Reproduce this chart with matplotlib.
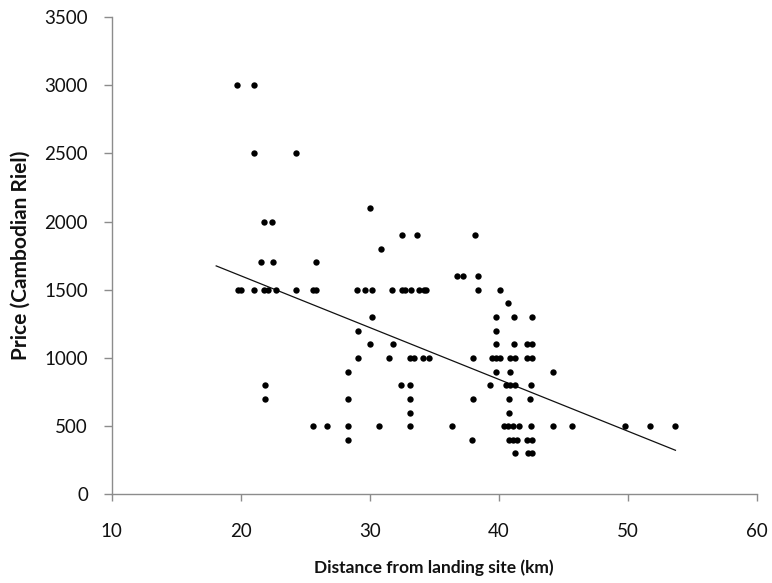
import numpy as np
import matplotlib
matplotlib.use("Agg")
import matplotlib.pyplot as plt

plt.rcParams["font.family"] = ["Lato", "DejaVu Sans"]

# distance (km) / price (riel)
dist_3000 = [19.7, 21.0]
dist_2500 = [21.0, 24.3]
dist_2100 = [30.0]
dist_2000 = [21.8, 22.4]
dist_1900 = [32.5, 33.7, 38.2]
dist_1800 = [30.9]
dist_1700 = [21.6, 22.5, 25.8]
dist_1600 = [36.8, 37.2, 38.4]
dist_1500 = [19.8, 20.0, 21.05, 21.8, 22.1, 22.7, 24.3, 25.6, 25.8, 29.0, 29.6,
             30.2, 31.7, 32.5, 32.7, 33.2, 33.85, 34.2, 34.4, 38.4, 40.1]
dist_1400 = [40.7]
dist_1300 = [30.2, 39.8, 41.2, 42.6]
dist_1200 = [29.1, 39.8]
dist_1100 = [30.0, 31.8, 39.8, 41.2, 42.2, 42.6]
dist_1000 = [29.1, 31.5, 33.1, 33.4, 34.1, 34.6, 38.0, 39.5, 39.8, 40.1, 40.9,
             41.3, 42.2, 42.6]
dist_900 = [28.3, 39.8, 40.9, 44.2]
dist_800 = [21.9, 32.4, 33.1, 39.3, 40.6, 40.9, 41.3, 42.5]
dist_700 = [21.9, 28.3, 33.1, 38.0, 40.8, 42.4]
dist_600 = [33.1, 40.8]
dist_500 = [25.6, 26.7, 28.3, 30.7, 33.1, 36.4, 40.4, 40.7, 41.1, 41.6, 42.5,
            44.2, 45.7, 49.8, 51.7, 53.7]
dist_400 = [28.3, 37.9, 40.8, 41.1, 41.4, 42.2, 42.6]
dist_300 = [41.3, 42.3, 42.6]

rows = {3000: dist_3000, 2500: dist_2500, 2100: dist_2100, 2000: dist_2000,
        1900: dist_1900, 1800: dist_1800, 1700: dist_1700, 1600: dist_1600,
        1500: dist_1500, 1400: dist_1400, 1300: dist_1300, 1200: dist_1200,
        1100: dist_1100, 1000: dist_1000, 900: dist_900, 800: dist_800,
        700: dist_700, 600: dist_600, 500: dist_500, 400: dist_400, 300: dist_300}
x = np.array([d for p, ds in rows.items() for d in ds])
y = np.array([p for p, ds in rows.items() for d in ds], dtype=float)

# fitted line as printed in the figure (ends)
trend_x = [18.1, 53.7]
trend_y = [1675, 323]

fig = plt.figure(figsize=(7.72, 5.83), dpi=100)
ax = fig.add_axes([0.1447, 0.1521, 0.8355, 0.8187])

ax.scatter(x, y, s=21, color="black", zorder=3, linewidths=0)
ax.plot(trend_x, trend_y, color="#111111", lw=0.9)

ax.set_xlim(10, 60)
ax.set_ylim(0, 3500)
ax.set_xticks(range(10, 61, 10))
ax.set_yticks(range(0, 3501, 500))

for s in ["top", "right"]:
    ax.spines[s].set_visible(False)
for s in ["left", "bottom"]:
    ax.spines[s].set_color("#8c8c8c")
    ax.spines[s].set_linewidth(1.0)
ax.tick_params(axis="y", length=6, width=1, color="#8c8c8c", pad=11, labelsize=13.5,
               labelcolor="#111111")
ax.tick_params(axis="x", length=5, width=1, color="#8c8c8c", pad=16, labelsize=13.5,
               labelcolor="#111111")

ax.set_xlabel("Distance from landing site (km)", fontsize=12.5, fontweight="bold",
              labelpad=14, color="#111111")
ax.set_ylabel("Price (Cambodian Riel)", fontsize=15, fontweight="bold", labelpad=10,
              color="#111111")

fig.savefig("out.png", dpi=100)
